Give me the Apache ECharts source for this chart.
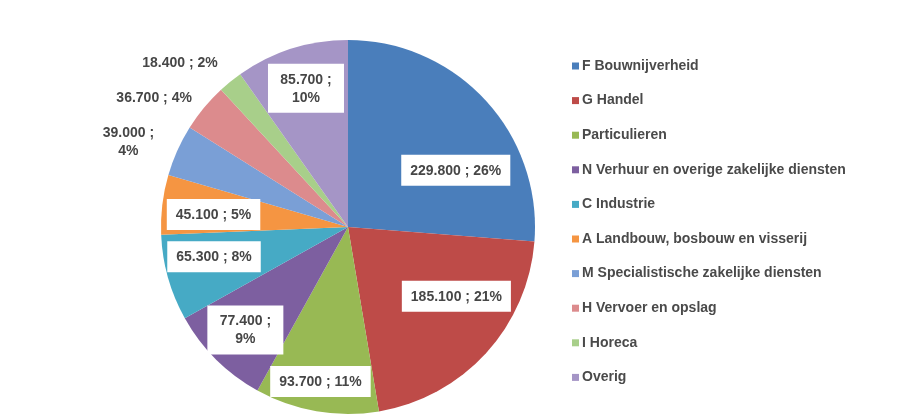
<!DOCTYPE html>
<html>
<head>
<meta charset="utf-8">
<script src="https://cdn.jsdelivr.net/npm/echarts@6/dist/echarts.min.js"></script>
<style>
  html, body { margin: 0; padding: 0; background: #fff; }
  #chart { width: 899px; height: 416px; }
</style>
</head>
<body>
<div id="chart"></div>
<script>
const categories = [
  'F Bouwnijverheid',
  'G Handel',
  'Particulieren',
  'N Verhuur en overige zakelijke diensten',
  'C Industrie',
  'A Landbouw, bosbouw en visserij',
  'M Specialistische zakelijke diensten',
  'H Vervoer en opslag',
  'I Horeca',
  'Overig'
];
const values = [229800, 185100, 93700, 77400, 65300, 45100, 39000, 36700, 18400, 85700];
// percentages as printed on the original labels
const percents = [26, 21, 11, 9, 8, 5, 4, 4, 2, 10];
const colors = ['#4a7ebb', '#be4b48', '#98b954', '#7d5fa0', '#46aac5', '#f59542', '#7a9fd6', '#dc8b8d', '#a8cf8a', '#a595c6'];

// slices whose label sits outside the pie (like the Excel original)
const outsideLabels = ['M Specialistische zakelijke diensten', 'H Vervoer en opslag', 'I Horeca'];
// labels that wrap onto two lines
const twoLineLabels = ['N Verhuur en overige zakelijke diensten', 'M Specialistische zakelijke diensten', 'Overig'];
// small nudges so the labels land where Excel's "best fit" put them
const labelNudge = {
  'F Bouwnijverheid': [1, 42],
  'G Handel': [1, -29],
  'Particulieren': [-3, 11],
  'C Industrie': [6, -10],
  'A Landbouw, bosbouw en visserij': [10, 5],
  'Overig': [2, 0],
  'M Specialistische zakelijke diensten': [0, -3],
  'H Vervoer en opslag': [6, -2],
  'I Horeca': [4, -9]
};

function fmt(i) {
  const num = (values[i] / 1000).toFixed(3);
  const pct = percents[i] + '%';
  if (twoLineLabels.indexOf(categories[i]) >= 0) {
    return '{c|' + num + ' ;}\n{c|' + pct + '}';
  }
  return num + ' ; ' + pct;
}

const textStyle = {
  fontFamily: 'Liberation Sans',
  fontSize: 14,
  fontWeight: 'bold',
  color: '#464646',
  lineHeight: 18
};
const rich = {
  c: { width: 58, align: 'center', fontFamily: 'Liberation Sans', fontSize: 14, fontWeight: 'bold', color: '#464646', lineHeight: 18 }
};

function nudge(params) {
  const n = labelNudge[categories[params.dataIndex]];
  return n ? { dx: n[0], dy: n[1] } : {};
}

var myChart = echarts.init(document.getElementById('chart'));

const option = {
  animation: false,
  color: colors,
  legend: {
    orient: 'vertical',
    left: 572,
    top: 58,
    padding: 0,
    icon: 'rect',
    itemWidth: 7,
    itemHeight: 7,
    itemGap: 18.6,
    data: categories,
    textStyle: {
      fontFamily: 'Liberation Sans',
      fontSize: 14,
      fontWeight: 'bold',
      color: '#4a4a4a',
      lineHeight: 16,
      padding: [0, 0, 0, -2]
    }
  },
  series: [
    {
      // the visible pie, carries the outside labels
      type: 'pie',
      center: [348, 227],
      radius: [0, 187],
      startAngle: 90,
      clockwise: true,
      avoidLabelOverlap: false,
      labelLine: { show: false, length: 12, length2: 4 },
      labelLayout: nudge,
      data: categories.map((name, i) => ({
        name: name,
        value: values[i],
        label: {
          show: outsideLabels.indexOf(name) >= 0,
          position: 'outside',
          formatter: () => fmt(i),
          rich: rich,
          ...textStyle
        }
      }))
    },
    {
      // transparent ring only used to put the boxed labels near the rim
      type: 'pie',
      center: [348, 227],
      radius: [98, 187],
      startAngle: 90,
      clockwise: true,
      silent: true,
      itemStyle: { color: 'rgba(0,0,0,0)' },
      labelLine: { show: false },
      labelLayout: nudge,
      data: categories.map((name, i) => ({
        name: name,
        value: values[i],
        label: {
          show: outsideLabels.indexOf(name) < 0,
          position: 'inside',
          formatter: () => fmt(i),
          rich: rich,
          backgroundColor: '#fff',
          padding: [7, 9, 6, 9],
          ...textStyle
        }
      }))
    }
  ]
};
myChart.setOption(option);
</script>
</body>
</html>
